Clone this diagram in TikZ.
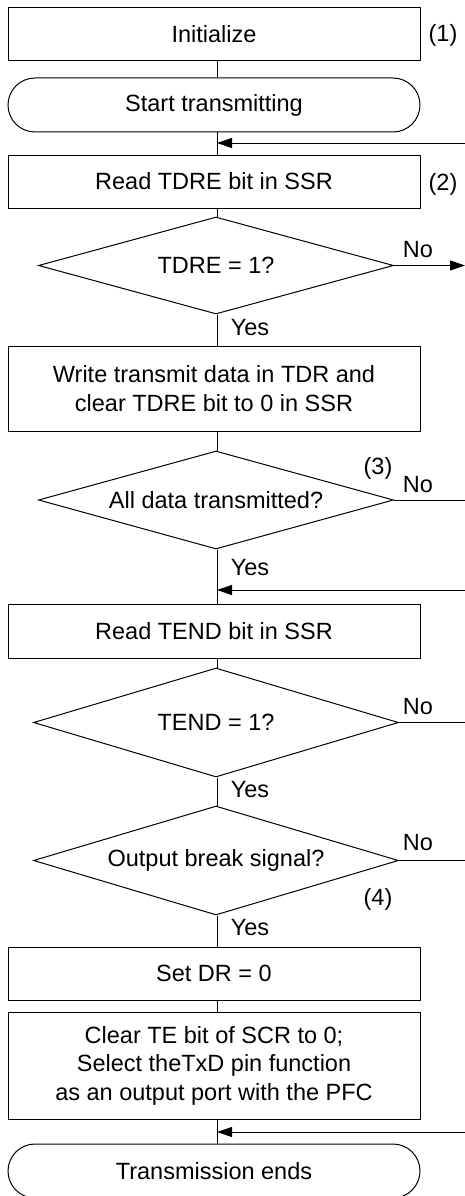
\documentclass[tikz,border=0pt]{standalone}
\usepackage{fontspec}
\setmainfont{Liberation Sans}
\usetikzlibrary{shapes.geometric,arrows.meta}
\begin{document}
\begin{tikzpicture}[x=1pt,y=-1pt,
  every node/.style={font=\fontsize{23.5pt}{28.5pt}\selectfont, inner sep=0pt},
  proc/.style={draw, line width=1pt, minimum width=412pt, align=center},
  term/.style={draw, line width=1pt, minimum width=412pt, minimum height=54pt, rounded corners=27pt},
  dec/.style={draw, line width=1pt, diamond, aspect=3.6},
  conn/.style={line width=1pt},
  arr/.style={line width=1pt, -{Triangle[length=15pt,width=10pt]}}]
\useasboundingbox (0,0) rectangle (465,1196);
\coordinate (cx) at (217,0);
\coordinate (re) at (465,0);
% nodes
\node[proc, minimum height=53pt] (init) at (214,34.5) {Initialize};
\node[term] (start) at (214,105) {Start transmitting};
\node[proc, minimum height=53pt] (rtdre) at (214,181.5) {Read TDRE bit in SSR};
\node[dec, minimum width=355pt, minimum height=97pt] (d1) at (216,265.5) {TDRE = 1?};
\node[proc, minimum height=85pt] (write) at (214,388.5) {Write transmit data in TDR and\\clear TDRE bit to 0 in SSR};
\node[dec, minimum width=355pt, minimum height=98pt] (d2) at (216,500) {All data transmitted?};
\node[proc, minimum height=54pt] (rtend) at (214,631) {Read TEND bit in SSR};
\node[dec, minimum width=365pt, minimum height=109pt] (d3) at (216,722.5) {TEND = 1?};
\node[dec, minimum width=365pt, minimum height=109pt] (d4) at (216,860.5) {Output break signal?};
\node[proc, minimum height=53pt] (setdr) at (214,973.5) {Set DR = 0};
\node[proc, minimum height=107pt] (clear) at (214,1065.5) {Clear TE bit of SCR to 0;\\Select theTxD pin function\\as an output port with the PFC};
\node[term] (tend) at (214,1171) {Transmission ends};
% labels
\node (l1) at (443,35) {(1)};
\node (l2) at (443,184) {(2)};
\node (l3) at (378,468) {(3)};
\node (l4) at (378,899) {(4)};
\node (no1) at (418,250) {No};
\node (no2) at (418,485) {No};
\node (no3) at (418,707) {No};
\node (no4) at (418,843) {No};
\node (y1) at (250,328) {Yes};
\node (y2) at (250,568) {Yes};
\node (y3) at (250,790) {Yes};
\node (y4) at (250,928) {Yes};
% vertical connectors
\draw[conn] (init.south -| cx) -- (start.north -| cx);
\draw[conn] (start.south -| cx) -- (rtdre.north -| cx);
\draw[conn] (rtdre.south -| cx) -- (d1.north -| cx);
\draw[conn] (d1.south -| cx) -- (write.north -| cx);
\draw[conn] (write.south -| cx) -- (d2.north -| cx);
\draw[conn] (d2.south -| cx) -- (rtend.north -| cx);
\draw[conn] (rtend.south -| cx) -- (d3.north -| cx);
\draw[conn] (d3.south -| cx) -- (d4.north -| cx);
\draw[conn] (d4.south -| cx) -- (setdr.north -| cx);
\draw[conn] (setdr.south -| cx) -- (clear.north -| cx);
\draw[conn] (clear.south -| cx) -- (tend.north -| cx);
% side lines
\coordinate (r1) at (465,143);
\coordinate (r2) at (465,590);
\coordinate (r3) at (465,1132);
\draw[arr] (r1) -- (r1 -| cx);
\draw[arr] (r2) -- (r2 -| cx);
\draw[arr] (r3) -- (r3 -| cx);
\draw[arr] (d1.east) -- (d1.east -| re);
\draw[conn] (d2.east) -- (d2.east -| re);
\draw[conn] (d3.east) -- (d3.east -| re);
\draw[conn] (d4.east) -- (d4.east -| re);
\end{tikzpicture}
\end{document}
